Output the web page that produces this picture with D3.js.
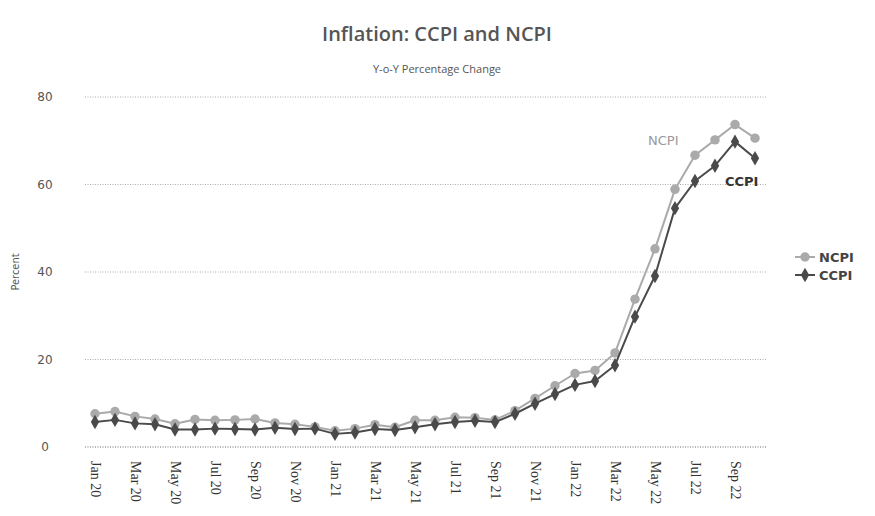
<!DOCTYPE html>
<html>
<head>
<meta charset="utf-8">
<script src="https://cdn.jsdelivr.net/npm/d3@7"></script>
<style>
  body { margin: 0; background: #fff; }
  svg { display: block; }
</style>
</head>
<body>
<svg id="chart"></svg>
<script>
const months = ["Jan 20","Feb 20","Mar 20","Apr 20","May 20","Jun 20","Jul 20","Aug 20","Sep 20","Oct 20","Nov 20","Dec 20",
  "Jan 21","Feb 21","Mar 21","Apr 21","May 21","Jun 21","Jul 21","Aug 21","Sep 21","Oct 21","Nov 21","Dec 21",
  "Jan 22","Feb 22","Mar 22","Apr 22","May 22","Jun 22","Jul 22","Aug 22","Sep 22","Oct 22"]
const ncpi = [7.6, 8.1, 7.0, 6.4, 5.3, 6.3, 6.1, 6.2, 6.4, 5.5, 5.2, 4.6,
  3.7, 4.2, 5.1, 4.5, 6.1, 6.1, 6.8, 6.7, 6.2, 8.3, 11.1, 14.0,
  16.8, 17.5, 21.5, 33.8, 45.3, 58.9, 66.7, 70.2, 73.7, 70.6]
const ccpi = [5.7, 6.2, 5.4, 5.2, 4.0, 4.0, 4.2, 4.1, 4.0, 4.4, 4.1, 4.2,
  3.0, 3.3, 4.1, 3.9, 4.5, 5.2, 5.7, 6.0, 5.7, 7.6, 9.9, 12.1,
  14.2, 15.1, 18.7, 29.8, 39.1, 54.6, 60.8, 64.3, 69.8, 66.0]
const yTicks = [0, 20, 40, 60, 80]

width = 875
height = 516

const svg = d3.select("#chart").attr("width", width).attr("height", height)

x = d3.scalePoint().domain(months).range([95, 755])
y = d3.scaleLinear().domain([0, 80]).range([447, 97])

// gridlines
svg.append("g")
  .selectAll("line")
  .data(yTicks)
  .join("line")
    .attr("x1", 85).attr("x2", 767)
    .attr("y1", d => y(d)).attr("y2", d => y(d))
    .attr("stroke", d => d === 0 ? "#666" : "#aaa")
    .attr("stroke-width", 1)
    .attr("stroke-dasharray", "1,1.5")

// y labels
svg.append("g")
  .selectAll("text")
  .data(yTicks)
  .join("text")
    .attr("x", 45).attr("y", d => y(d) + 4)
    .attr("text-anchor", "middle")
    .attr("font-family", "DejaVu Sans")
    .attr("font-size", 12)
    .attr("fill", "#555")
    .text(d => d)

svg.append("text")
  .attr("transform", "translate(19,272) rotate(-90)")
  .attr("text-anchor", "middle")
  .attr("font-family", "DejaVu Sans Condensed, DejaVu Sans")
  .attr("font-size", 11)
  .attr("fill", "#555")
  .text("Percent")

// x labels, every second month
svg.append("g")
  .selectAll("text")
  .data(months.filter((m, i) => i % 2 === 0))
  .join("text")
    .attr("transform", d => `translate(${x(d) - 4},461) rotate(90)`)
    .attr("font-family", "Liberation Serif")
    .attr("font-size", 14)
    .attr("fill", "#333")
    .text(d => d)

// titles
svg.append("text")
  .attr("x", 437).attr("y", 41)
  .attr("text-anchor", "middle")
  .attr("font-family", "Open Sans")
  .attr("font-weight", 600)
  .attr("font-size", 20)
  .attr("fill", "#555")
  .text("Inflation: CCPI and NCPI")

svg.append("text")
  .attr("x", 437).attr("y", 73)
  .attr("text-anchor", "middle")
  .attr("font-family", "Open Sans")
  .attr("font-size", 11)
  .attr("fill", "#555")
  .text("Y-o-Y Percentage Change")

const series = [
  {name: "NCPI", values: ncpi, color: "#aaa", symbol: d3.symbolCircle, size: 70},
  {name: "CCPI", values: ccpi, color: "#4a4a4a", symbol: d3.symbolDiamond, size: 60}
]

line = d3.line()
  .x((d, i) => x(months[i]))
  .y(d => y(d))

series.forEach(s => {
  svg.append("path")
    .datum(s.values)
    .attr("fill", "none")
    .attr("stroke", s.color)
    .attr("stroke-width", 2)
    .attr("stroke-linejoin", "round")
    .attr("d", line)
  svg.append("g")
    .selectAll("path")
    .data(s.values)
    .join("path")
      .attr("transform", (d, i) => `translate(${x(months[i])},${y(d)})`)
      .attr("d", d3.symbol(s.symbol, s.size))
      .attr("fill", s.color)
})

// inline labels
svg.append("text")
  .attr("x", 648).attr("y", 145)
  .attr("font-family", "DejaVu Sans")
  .attr("font-size", 13)
  .attr("fill", "#999")
  .text("NCPI")

svg.append("text")
  .attr("x", 725).attr("y", 186)
  .attr("font-family", "DejaVu Sans")
  .attr("font-weight", "bold")
  .attr("font-size", 13)
  .attr("fill", "#333")
  .text("CCPI")

// legend
const legend = svg.append("g")
  .selectAll("g")
  .data(series)
  .join("g")
    .attr("transform", (d, i) => `translate(795,${257 + i * 18})`)
legend.append("line")
  .attr("x1", 0).attr("x2", 20)
  .attr("stroke", d => d.color)
  .attr("stroke-width", 2)
legend.append("path")
  .attr("transform", "translate(10,0)")
  .attr("d", d => d3.symbol(d.symbol, d.size)())
  .attr("fill", d => d.color)
legend.append("text")
  .attr("x", 24).attr("y", 5)
  .attr("font-family", "DejaVu Sans")
  .attr("font-weight", "bold")
  .attr("font-size", 13)
  .attr("fill", "#444")
  .text(d => d.name)
</script>
</body>
</html>
